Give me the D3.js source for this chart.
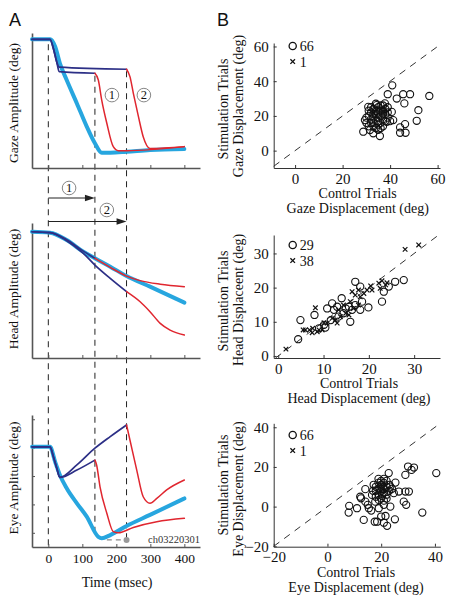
<!DOCTYPE html>
<html><head><meta charset="utf-8">
<script src="https://cdn.jsdelivr.net/npm/d3@7"></script>
<style>
body{margin:0;background:#fff}
svg{display:block}
</style>
</head><body>
<svg id="c" width="462" height="600"></svg>
<script>
// ---------- Panel A data: [time (msec), amplitude (deg)] ----------
const timeTicks = [0, 100, 200, 300, 400];
const eyeTicks = [0, 10, 20, 30, 40];
const stimTimes = [0, 137, 230];

const gazeControl = [[-48,57.2],[5,57.2],[20,54],[34,46.5],[54,39.1],[84,28.7],[113,18.4],[137,11],[157,6.8],[182,6.8],[230,7.2],[299,8],[400,8.4]];
const gazeBlue1 = [[-48,57.2],[5,57.2],[15,53],[25,47],[32,42.8],[137,42.1]];
const gazeBlue2 = [[-48,57.2],[5,57.2],[15,53],[25,47],[32,44.8],[230,43.9]];
const gazeRed1 = [[137,42.1],[147,39.1],[157,30.2],[172,19.9],[191,9.5],[206,7.7],[230,7.7],[400,9.5]];
const gazeRed2 = [[230,43.9],[240,40.6],[250,33.2],[265,22.8],[279,13.9],[299,8.7],[400,9.5]];

const headControl = [[-48,56.1],[5,55.7],[54,52.4],[103,47.2],[137,44.3],[182,40.6],[230,36.4],[299,31.7],[400,24.6]];
const headBlue1 = [[-48,56.1],[5,55.7],[54,52.6],[103,47.5],[137,44.3]];
const headBlue2 = [[-48,56.1],[5,55.7],[54,52.1],[103,46.5],[137,41.3],[182,35.4],[230,29.5]];
const headRed1 = [[137,44.3],[182,40.3],[230,36.4],[270,34.4],[329,32.8],[400,31.7]];
const headRed2 = [[230,29.5],[270,25],[299,20.6],[329,15.4],[358,12.4],[400,10.2]];

const eyeControl = [[-48,30.3],[5,30.3],[20,25],[34,20.4],[54,15.7],[84,10.4],[113,5.7],[147,-1.4],[157,-1.9],[182,-0.8],[230,2.4],[299,6.3],[400,12.1]];
const eyeBlue1 = [[-48,30.3],[5,30.3],[15,26.8],[25,22.7],[34,19.5],[84,22.1],[137,25.6]];
const eyeBlue2 = [[-48,30.3],[5,30.3],[15,26.8],[25,22.7],[34,19.5],[84,23.9],[137,29.8],[182,33.9],[230,38]];
const eyeRed1 = [[137,25.6],[142,23.9],[152,16.2],[172,6.9],[191,0.4],[206,0],[250,1.9],[319,3.9],[400,5.1]];
const eyeRed2 = [[230,38],[240,32.7],[260,22.1],[279,12.7],[299,10.4],[319,12.1],[348,15.1],[400,18.6]];

// ---------- Panel B data: [control, stimulation] displacement (deg) ----------
const gazeTicks = [0, 20, 40, 60];
const gazeCircles = [[40.9,37.6],[39,32.5],[42.8,30],[45.5,32.5],[48.4,32.5],[46,27.2],[56.5,31.5],[51.9,23.3],[51.2,17.2],[46.3,15.3],[44.2,13.4],[44.2,10.3],[46.5,10.3],[35.7,8.4],[30.8,25.2],[34.3,26.2],[37.8,27.2],[40.7,22.3],[41.3,17.6],[38.6,16.6],[29.4,17.6],[28.7,10.9],[31.5,11.9],[32.9,10],
 [32,22],[33,24],[34,21],[35,25],[36,23],[37,26],[38,24],[33,19],[34,17],[35,19],[36,20],[37,18],[38,21],[39,19],[32,16],[33,14],[35,15],[36,16],[37,14],[34,13],[31,20],[31,14],[32,18],[30,16],[35,22],[36,26],[37,21],[38,17],[33,21],[34,23],[35,17],[36,13],[39,22],[40,17],[32,25],[34,27],[30,19],[31,23],[37,23],[35,12],[33,16],[39,25]];
const gazeCrosses = [[34,20]];

const headTicks = [0, 10, 20, 30];
const headCircles = [[4.9,10.5],[4.4,4.9],[8.0,12],[17.0,21.7],[18.1,20.3],[14.0,16.9],[11.9,15.4],[10.8,13.9],[13.0,14.4],[15.9,10],[18.5,15.9],[19.9,14.2],[18.1,13.5],[22.9,15.9],[23.3,18.8],[24.4,20.3],[25.8,21.7],[27.7,22.2],[16.3,13.5],[14.4,12.5],[13.3,11.5],[11.6,10.5],[10.1,9.1],[9.0,8.1],[17.0,14.9],[15.6,14.4],[12.3,13.5],[10.4,8.3],[14.9,13.9]];
const headCrosses = [[6.0,7.6],[8.2,14.1],[7.6,8.1],[7.5,6.8],[8.6,7.1],[9.7,7.6],[10.1,9.7],[12.6,10.5],[13.3,13.5],[14.4,14.9],[16.3,18.8],[17.0,17.8],[17.7,19.3],[18.9,18.3],[19.6,19.3],[20.4,20.5],[22.2,21.3],[22.9,22],[23.7,20.8],[24.0,21.4],[28.0,31.2],[31.0,32.5],[15.9,15.9],[16.6,13.9],[18.1,17.3],[14.9,12.5],[13.7,11.5],[11.9,11],[10.8,9.6],[9.0,7.6],[6.9,7.6],[1.7,2.0],[5.5,7.6],[20.7,19.3],[22.5,19.8],[17.7,14.9],[15.6,12],[13.0,9.6]];

const eyeScatterTicks = [-20, 0, 20, 40];
const eyeCircles = [[40.5,16.9],[30,20.2],[32.2,19.7],[31.3,18.5],[29,16],[22.8,16.9],[35.3,-3],[30.3,7.6],[29,7.6],[28.4,2.5],[29.3,0.9],[8.1,0.4],[7.9,-3],[11,-0.8],[13.5,-6.7],[17.6,-7.6],[22.2,-9.7],[21,-8.1],[25.1,-6.4],[21.6,-4.7],[14.1,8.8],[12.2,5],[14.1,2.5],[15.4,-0.8],[16.3,-2],[19.1,-0.8],[17.2,11],[23.4,0],[21,0.9],[25.3,12.1],[26.6,7.6],[23.4,10.1],[24.7,6.8],[19.1,3.4],[17.8,2.5],[20.3,5.4],[16.6,5.9],[15,0.9],[12.5,4.2],[18.5,-7.6],
 [19,9],[20,11],[21,12],[22,10],[20,8],[21,7],[19,12],[18,10],[22,13],[23,8],[20,13],[21,9],[22,6],[19,6],[18,8],[20,10],[23,11],[21,14],[19,14],[24,9],[17,8],[22,4],[20,4],[21,3],[18,5],[20,-5]];
const eyeCrosses = [[21,8]];

// ---------- drawing ----------
const SERIF = "'Liberation Serif','Times New Roman',serif";
const SANS = "'Liberation Sans',Arial,sans-serif";
const svg = d3.select("#c");
const CYAN = "#27a6df", NAVY = "#2c2f86", RED = "#e0262f", AX = "#555";

function txt(sel) { return sel.style("font-family", SERIF).attr("fill", "#111"); }

const xT = d3.scaleLinear().domain([-48, 446]).range([32, 200]);
const yG = d3.scaleLinear().domain([0, 60]).range([168, 33]);
const yH = d3.scaleLinear().domain([0, 60]).range([358, 223]);
const yE = d3.scaleLinear().domain([-5, 41.5]).range([547, 415]);

// dashed verticals (under traces)
const vStart = [yG(55), yG(41), yG(43)];
const vEnd = [yE(-5), yE(-1.5), yE(-2.5)];
stimTimes.forEach((t, i) => {
  svg.append("line").attr("x1", xT(t)).attr("x2", xT(t))
    .attr("y1", vStart[i]).attr("y2", vEnd[i])
    .attr("stroke", "#222").attr("stroke-width", 1).attr("stroke-dasharray", "6,5");
});

function panelA(y, traces, labels, yTicks) {
  const g = svg.append("g");
  const ax = g.append("g").attr("transform", `translate(0,${y.range()[0]})`)
    .call(d3.axisBottom(xT).tickValues(timeTicks).tickSize(-3).tickSizeOuter(0).tickPadding(6)
      .tickFormat(labels ? d3.format("d") : ""));
  ax.select(".domain").attr("stroke", AX).attr("stroke-width", 1.4);
  ax.selectAll(".tick line").attr("stroke", AX);
  txt(ax.selectAll("text")).style("font-size", "13.5px");
  const ay = g.append("g").attr("transform", `translate(${xT.range()[0]},0)`)
    .call(d3.axisLeft(y).tickValues(yTicks).tickSize(-3).tickSizeOuter(0).tickFormat(""));
  ay.select(".domain").attr("stroke", AX).attr("stroke-width", 1.6);
  ay.selectAll(".tick line").attr("stroke", AX);
  const line = d3.line().x(d => xT(d[0])).y(d => y(d[1])).curve(d3.curveMonotoneX);
  traces.forEach(([data, color, w]) => {
    g.append("path").attr("d", line(data)).attr("fill", "none")
      .attr("stroke", color).attr("stroke-width", w).attr("stroke-linejoin", "round").attr("stroke-linecap", "round");
  });
}

panelA(yG, [[gazeControl, CYAN, 4], [gazeBlue1, NAVY, 1.7], [gazeBlue2, NAVY, 1.7], [gazeRed1, RED, 1.5], [gazeRed2, RED, 1.5]], false, []);
panelA(yH, [[headControl, CYAN, 4], [headBlue1, NAVY, 1.7], [headBlue2, NAVY, 1.7], [headRed1, RED, 1.5], [headRed2, RED, 1.5]], false, []);
panelA(yE, [[eyeControl, CYAN, 4], [eyeBlue1, NAVY, 1.7], [eyeBlue2, NAVY, 1.7], [eyeRed1, RED, 1.5], [eyeRed2, RED, 1.5]], true, eyeTicks);

// gray marker in eye plot
svg.append("line").attr("x1", xT(172)).attr("x2", xT(224)).attr("y1", yE(-2.5)).attr("y2", yE(-2.5))
  .attr("stroke", "#888").attr("stroke-width", 1.2).attr("stroke-dasharray", "5,4");
svg.append("circle").attr("cx", xT(230)).attr("cy", yE(-2.5)).attr("r", 3).attr("fill", "#999");
txt(svg.append("text").attr("x", 200).attr("y", 543).attr("text-anchor", "end")).style("font-size", "10.5px").attr("fill", "#333").text("ch03220301");

// circled numbers
function circled(cx, cy, s) {
  svg.append("circle").attr("cx", cx).attr("cy", cy).attr("r", 6.8).attr("fill", "#fff").attr("stroke", "#777").attr("stroke-width", 0.9);
  txt(svg.append("text").attr("x", cx).attr("y", cy + 4.3).attr("text-anchor", "middle")).style("font-size", "12.5px").text(s);
}
circled(xT(187), yG(32.4), "1");
circled(xT(281), yG(32.4), "2");

// arrows
function arrow(t0, t1, y) {
  const x0 = xT(t0), x1 = xT(t1);
  svg.append("line").attr("x1", x0).attr("x2", x1 - 8).attr("y1", y).attr("y2", y).attr("stroke", "#222").attr("stroke-width", 1);
  svg.append("path").attr("d", `M${x1},${y} L${x1 - 10},${y - 3.2} L${x1 - 10},${y + 3.2} Z`).attr("fill", "#222");
}
arrow(0, 137, 198);
arrow(0, 230, 221.5);
circled(xT(61), 188, "1");
circled(xT(172), 210, "2");

// panel A labels
function vlabel(x, y, s, size) {
  txt(svg.append("text").attr("transform", `translate(${x},${y}) rotate(-90)`).attr("text-anchor", "middle"))
    .style("font-size", size + "px").text(s);
}
vlabel(18, 103, "Gaze Amplitude (deg)", 13.5);
vlabel(18, 289, "Head Amplitude (deg)", 13.5);
vlabel(18, 478, "Eye Amplitude (deg)", 13.5);
txt(svg.append("text").attr("x", 117).attr("y", 587).attr("text-anchor", "middle")).style("font-size", "14px").text("Time (msec)");

svg.append("text").attr("x", 9).attr("y", 26).style("font-family", SANS).style("font-size", "18px").attr("fill", "#111").text("A");
svg.append("text").attr("x", 217).attr("y", 26).style("font-family", SANS).style("font-size", "18px").attr("fill", "#111").text("B");

// ---------- scatter plots ----------
function scatter(cfg) {
  const x = d3.scaleLinear().domain(cfg.xd).range(cfg.xr);
  const y = d3.scaleLinear().domain(cfg.yd).range(cfg.yr);
  const g = svg.append("g");
  const lo = Math.max(cfg.xd[0], cfg.yd[0]), hi = Math.min(cfg.xd[1], cfg.yd[1]);
  g.append("line").attr("x1", x(lo)).attr("y1", y(lo)).attr("x2", x(hi)).attr("y2", y(hi))
    .attr("stroke", "#333").attr("stroke-width", 1).attr("stroke-dasharray", "7,6");
  const axb = g.append("g").attr("transform", `translate(0,${cfg.yr[0]})`)
    .call(d3.axisBottom(x).tickValues(cfg.ticks).tickSize(-3).tickSizeOuter(0).tickPadding(5));
  const axl = g.append("g").attr("transform", `translate(${cfg.xr[0]},0)`)
    .call(d3.axisLeft(y).tickValues(cfg.ticks).tickSize(-3).tickSizeOuter(0).tickPadding(5));
  [axb, axl].forEach(a => {
    a.select(".domain").attr("stroke", "#333");
    a.selectAll(".tick line").attr("stroke", "#333");
    txt(a.selectAll("text")).style("font-size", "15px");
  });
  g.selectAll(".pc").data(cfg.circles).enter().append("circle")
    .attr("cx", d => x(d[0])).attr("cy", d => y(d[1])).attr("r", 3.6)
    .attr("fill", "none").attr("stroke", "#111").attr("stroke-width", 1.1);
  const s = 2.3;
  g.selectAll(".px").data(cfg.crosses).enter().append("path")
    .attr("d", d => { const cx = x(d[0]), cy = y(d[1]); return `M${cx - s},${cy - s}L${cx + s},${cy + s}M${cx - s},${cy + s}L${cx + s},${cy - s}`; })
    .attr("stroke", "#111").attr("stroke-width", 1.2);
  const lx = 292.7, ly = cfg.legendY, dy = 15.6;
  g.append("circle").attr("cx", lx).attr("cy", ly).attr("r", 3.6).attr("fill", "none").attr("stroke", "#111").attr("stroke-width", 1.3);
  g.append("path").attr("d", `M${lx - s},${ly + dy - s}L${lx + s},${ly + dy + s}M${lx - s},${ly + dy + s}L${lx + s},${ly + dy - s}`)
    .attr("stroke", "#111").attr("stroke-width", 1.3);
  txt(g.append("text").attr("x", lx + 7).attr("y", ly + 5)).style("font-size", "14px").text(cfg.circles.length);
  txt(g.append("text").attr("x", lx + 7).attr("y", ly + dy + 5)).style("font-size", "14px").text(cfg.crosses.length);
  txt(g.append("text").attr("x", cfg.cx).attr("y", cfg.yr[0] + 30).attr("text-anchor", "middle")).style("font-size", "14px").text("Control Trials");
  txt(g.append("text").attr("x", cfg.cx).attr("y", cfg.yr[0] + 45).attr("text-anchor", "middle")).style("font-size", "14px").text(cfg.name);
  vlabel(227.5, cfg.lyc, "Stimulation Trials", 14);
  vlabel(243, cfg.lyc2, cfg.yname, 14);
}

scatter({xd: [-9, 61], yd: [-10, 62], xr: [273.7, 440], yr: [168, 43], ticks: gazeTicks,
  circles: gazeCircles, crosses: gazeCrosses, legendY: 46, cx: 357.7, name: "Gaze Displacement (deg)",
  yname: "Gaze Displacement (deg)", lyc: 109, lyc2: 106});
scatter({xd: [-1, 35.7], yd: [-0.6, 35.4], xr: [273.7, 440], yr: [358, 235], ticks: headTicks,
  circles: headCircles, crosses: headCrosses, legendY: 245, cx: 359, name: "Head Displacement (deg)",
  yname: "Head Displaceent (deg)", lyc: 301, lyc2: 300});
scatter({xd: [-20, 42], yd: [-20.2, 42], xr: [273.7, 440.3], yr: [546.7, 423.3], ticks: eyeScatterTicks,
  circles: eyeCircles, crosses: eyeCrosses, legendY: 435, cx: 356, name: "Eye Displacement (deg)",
  yname: "Eye Displacement (deg)", lyc: 485, lyc2: 489});
</script>
</body></html>
